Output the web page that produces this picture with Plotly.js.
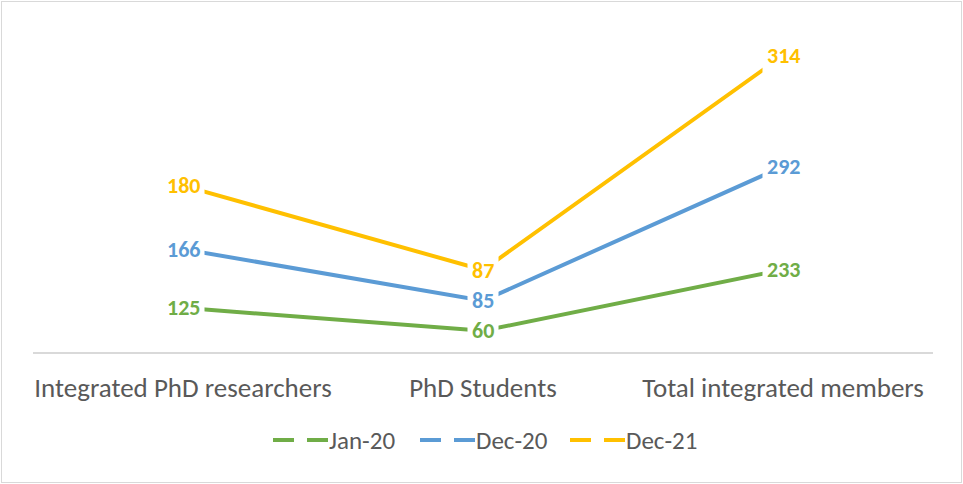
<!DOCTYPE html>
<html>
<head>
<meta charset="utf-8">
<script src="https://cdn.plot.ly/plotly-3.0.1.min.js"></script>
<style>
  html, body { margin: 0; padding: 0; background: #fff; }
  #wrap { position: relative; width: 963px; height: 484px; }
  #chart { width: 963px; height: 484px; }
  #frame { position: absolute; left: 1px; top: 1px; width: 961px; height: 482px; box-sizing: border-box; border: 1px solid #D9D9D9; pointer-events: none; }
</style>
</head>
<body>
<div id="wrap"><div id="chart"></div><div id="frame"></div></div>
<script>
// ---- data ----
const categories = ["Integrated PhD researchers", "PhD Students", "Total integrated members"];
const seriesNames = ["Jan-20", "Dec-20", "Dec-21"];
const jan20 = [125, 60, 233];
const dec20 = [166, 85, 292];
const dec21 = [180, 87, 314];
const seriesColors = ["#70AD47", "#5B9BD5", "#FFC000"];

const seriesValues = [jan20, dec20, dec21];
const FONT = "Calibri, Carlito, Lato, sans-serif";

// stacked line chart: cumulative sums
const cumulative = [];
seriesValues.forEach((vals, i) => {
  cumulative.push(vals.map((v, j) => v + (i > 0 ? cumulative[i - 1][j] : 0)));
});

const traces = seriesValues.map((vals, i) => ({
  type: "scatter",
  mode: "lines",
  x: categories,
  y: cumulative[i],
  name: seriesNames[i],
  line: { color: seriesColors[i], width: 4 },
  showlegend: false,
  hoverinfo: "skip"
}));

const annotations = [];
seriesValues.forEach((vals, i) => {
  vals.forEach((v, j) => {
    annotations.push({
      x: categories[j], y: cumulative[i][j], xref: "x", yref: "y",
      text: "<b>" + v + "</b>", showarrow: false,
      font: { family: FONT, size: 22, color: seriesColors[i] },
      bgcolor: "#FFFFFF", borderpad: 4,
      xanchor: "center", yanchor: "middle"
    });
  });
});

// manual legend (layout positions in pixels -> paper)
const M = { l: 33, r: 30, t: 34, b: 132 };
const W = 963, H = 484;
const pw = W - M.l - M.r, ph = H - M.t - M.b;
const px = x => (x - M.l) / pw;
const py = y => (H - M.b - y) / ph;
const legendStarts = [273, 420, 570];
const legendY = 440;
const shapes = [];
seriesNames.forEach((name, i) => {
  const x0 = legendStarts[i];
  shapes.push({ type: "line", xref: "paper", yref: "paper", x0: px(x0), x1: px(x0 + 21), y0: py(legendY), y1: py(legendY), line: { color: seriesColors[i], width: 4 } });
  shapes.push({ type: "line", xref: "paper", yref: "paper", x0: px(x0 + 34), x1: px(x0 + 55), y0: py(legendY), y1: py(legendY), line: { color: seriesColors[i], width: 4 } });
  annotations.push({
    xref: "paper", yref: "paper", x: px(x0 + 54), y: py(legendY),
    xanchor: "left", yanchor: "middle", showarrow: false,
    text: name, font: { family: FONT, size: 25, color: "#595959" }
  });
});

const layout = {
  width: W, height: H,
  margin: M,
  paper_bgcolor: "#FFFFFF", plot_bgcolor: "#FFFFFF",
  showlegend: false,
  font: { family: FONT, color: "#595959" },
  xaxis: {
    type: "category", range: [-0.5, 2.5],
    showgrid: false, zeroline: false,
    showline: true, linecolor: "#D9D9D9", linewidth: 2,
    ticks: "", ticklabelstandoff: 11,
    tickfont: { family: FONT, size: 27, color: "#595959" },
    fixedrange: true
  },
  yaxis: {
    range: [0, 900], visible: false, showgrid: false, zeroline: false, fixedrange: true
  },
  annotations: annotations,
  shapes: shapes
};

Plotly.newPlot("chart", traces, layout, { displayModeBar: false, staticPlot: true });
</script>
</body>
</html>
